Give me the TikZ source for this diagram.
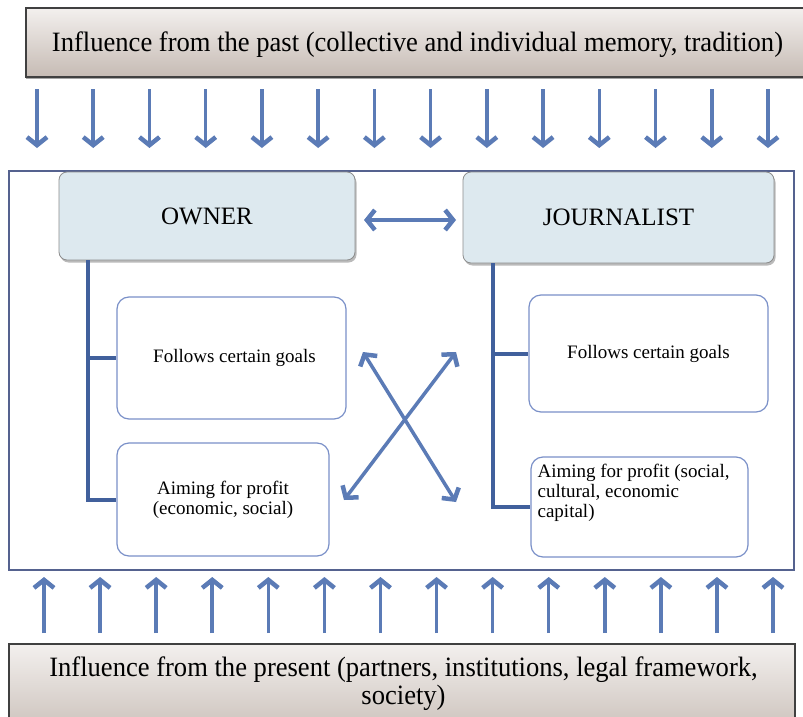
\documentclass[tikz,border=0pt]{standalone}
\usepackage{fontspec}
\setmainfont{Liberation Serif}
\usetikzlibrary{arrows.meta,shadows}
\definecolor{arrowblue}{HTML}{5B7BB6}
\definecolor{linkblue}{HTML}{41609C}
\definecolor{frameblue}{HTML}{55628F}
\definecolor{subblue}{HTML}{7A90C8}
\definecolor{headfill}{HTML}{DDE9EF}
\definecolor{taupetop}{HTML}{F3F0EE}
\definecolor{taupebot}{HTML}{C6BBB4}
\newlength\natw
\newcommand{\bigtxt}{\fontsize{28}{32}\selectfont}
\tikzset{
  bigbox/.style={draw=black!75, line width=1.6pt, top color=taupetop, bottom color=taupebot,
    drop shadow={shadow xshift=0.5pt, shadow yshift=-2pt, fill=black!70, opacity=0.5}},
  headbox/.style={draw=black!45, line width=0.8pt, fill=headfill, rounded corners=8pt,
    font=\fontsize{25}{28}\selectfont,
    drop shadow={shadow xshift=1.5pt, shadow yshift=-2.5pt, fill=black!60, opacity=0.45}},
  subbox/.style={draw=subblue, line width=1.2pt, fill=white, rounded corners=12pt,
    font=\fontsize{19}{20}\selectfont, align=center},
  flowtip/.tip={Straight Barb[length=8pt,width=20pt,line width=4.5pt]},
  flowarrow/.style={draw=arrowblue, line width=3.5pt, -flowtip},
  duoarrow/.style={draw=arrowblue, line width=3.5pt, flowtip-flowtip},
  linkline/.style={draw=linkblue, line width=4pt}
}
\begin{document}
\settowidth\natw{\bigtxt Influence from the past (collective and individual memory, tradition)}
\pgfmathsetmacro\cf{731/\natw}
\begin{tikzpicture}[x=1pt,y=-1pt]
\clip (0,0) rectangle (803,717);
\fill[white] (0,0) rectangle (803,717);

% top and bottom boxes
\node[bigbox, minimum width=830pt, minimum height=69pt, anchor=north west] (past) at (25,7) {};
\node[anchor=base, inner sep=0pt] (pasttext) at (417.5,52)
  {\scalebox{\cf}[1]{\bigtxt Influence from the past (collective and individual memory, tradition)}};

\node[bigbox, minimum width=786pt, minimum height=100pt, anchor=north west] (present) at (8,643) {};
\node[anchor=base, inner sep=0pt] (presenttext1) at (403.5,676)
  {\scalebox{\cf}[1]{\bigtxt Influence from the present (partners, institutions, legal framework,}};
\node[anchor=base, inner sep=0pt] (presenttext2) at (403.5,704)
  {\scalebox{\cf}[1]{\bigtxt society)}};

% frame
\node[draw=frameblue, line width=1.5pt, minimum width=785pt, minimum height=399pt, anchor=north west] (frame) at (8,170) {};

% arrows from past and present
\foreach \i in {0,...,13} {
  \coordinate (ds\i) at ({37+56.23*\i},89);
  \coordinate (de\i) at ({37+56.23*\i},148);
  \draw[flowarrow] (ds\i) -- (de\i);
  \coordinate (us\i) at ({44+56.08*\i},633);
  \coordinate (ue\i) at ({44+56.08*\i},577);
  \draw[flowarrow] (us\i) -- (ue\i);
}

% head boxes
\node[headbox, minimum width=296pt, minimum height=88pt] (owner) at (207,216) {OWNER};
\node[headbox, minimum width=311pt, minimum height=91pt] (journalist) at (618.5,217.5) {JOURNALIST};

% sub boxes
\node[subbox, minimum width=229pt, minimum height=122pt] (ol1) at (231.5,358) {\hspace*{6pt}Follows certain goals};
\node[subbox, minimum width=212pt, minimum height=113pt] (ol2) at (223,499.5) {Aiming for profit\\(economic, social)};
\node[subbox, minimum width=239pt, minimum height=117pt] (jr1) at (648.5,353.5) {Follows certain goals};
\node[subbox, minimum width=217pt, minimum height=100pt,
  label={[anchor=north west, align=left, inner sep=0pt, xshift=7pt, yshift=-8pt,
          font=\fontsize{19}{20}\selectfont]north west:Aiming for profit (social,\\cultural, economic\\capital)}] (jr2) at (639.5,507) {};

% connectors
\coordinate (oc) at (88,260);
\draw[linkline] (oc) |- (ol2.west);
\draw[linkline] (oc |- ol1.west) -- (ol1.west);
\coordinate (jc) at (493,263);
\draw[linkline] (jc) |- (jr2.west);
\draw[linkline] (jc |- jr1.west) -- (jr1.west);

% relation arrows
\coordinate (hl) at (364,220);
\coordinate (hr) at (456,220);
\draw[duoarrow] (hl) -- (hr);
\coordinate (xa) at (363,352);
\coordinate (xb) at (456,502);
\coordinate (xc) at (456,352);
\coordinate (xd) at (344,500);
\draw[duoarrow] (xa) -- (xb);
\draw[duoarrow] (xc) -- (xd);
\end{tikzpicture}
\end{document}
